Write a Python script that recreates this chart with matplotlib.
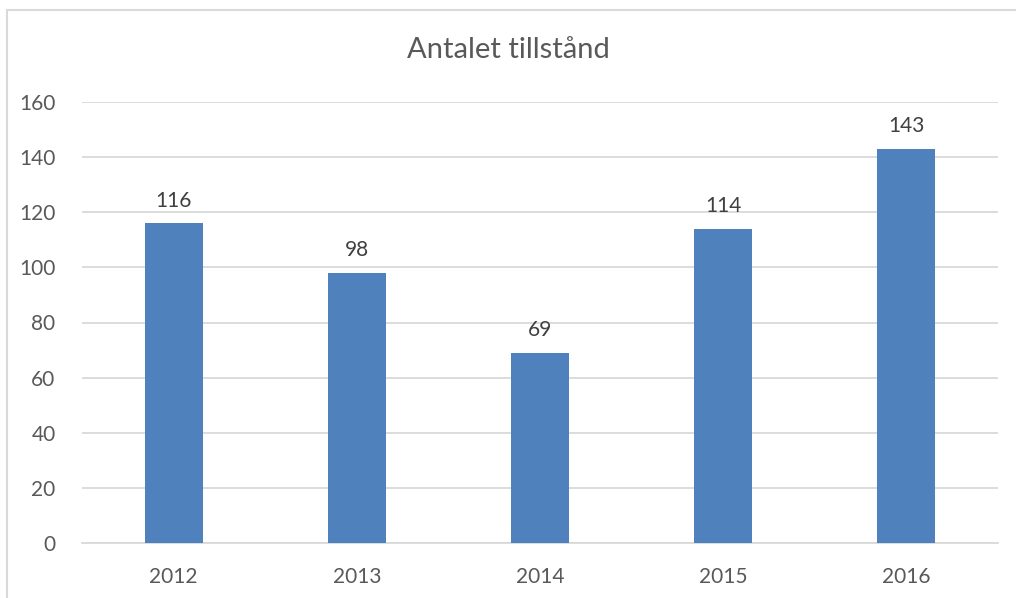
import matplotlib.pyplot as plt
from matplotlib.lines import Line2D

plt.rcParams['font.family'] = ['Lato', 'DejaVu Sans']

years = ['2012', '2013', '2014', '2015', '2016']
values = [116, 98, 69, 114, 143]
title = 'Antalet tillstånd'

W, H = 1016, 598
fig = plt.figure(figsize=(W / 100, H / 100), dpi=100)
ax = fig.add_axes([82 / W, 55 / H, 916 / W, 441 / H])

bars = ax.bar(range(len(years)), values, width=0.317, color='#4f81bd', zorder=3)
ax.bar_label(bars, labels=[str(v) for v in values], padding=9,
             fontsize=15, color='#404040')

ax.set_xlim(-0.5, len(years) - 0.5)
ax.set_ylim(0, 160)
ax.set_yticks(range(0, 161, 20))
ax.set_xticks(range(len(years)))
ax.set_xticklabels(years)
ax.yaxis.grid(True, color='#d9d9d9', linewidth=1.3, zorder=0)
for s in ['top', 'right', 'left']:
    ax.spines[s].set_visible(False)
ax.spines['bottom'].set_color('#d9d9d9')
ax.spines['bottom'].set_linewidth(1.3)
ax.tick_params(axis='both', length=0, labelsize=15, colors='#595959')
ax.tick_params(axis='y', pad=19)
ax.tick_params(axis='x', pad=17)

fig.text(0.5, 1 - 50 / H, title, ha='center', va='center',
         fontsize=21, color='#595959')

# chart frame (top and left edges visible)
fig.add_artist(Line2D([6.5 / W, 6.5 / W], [0, 1 - 9.5 / H], transform=fig.transFigure,
                      color='#d9d9d9', linewidth=1.5))
fig.add_artist(Line2D([6.5 / W, 1], [1 - 9.5 / H, 1 - 9.5 / H], transform=fig.transFigure,
                      color='#d9d9d9', linewidth=1.5))

fig.savefig('out.png', dpi=100)
